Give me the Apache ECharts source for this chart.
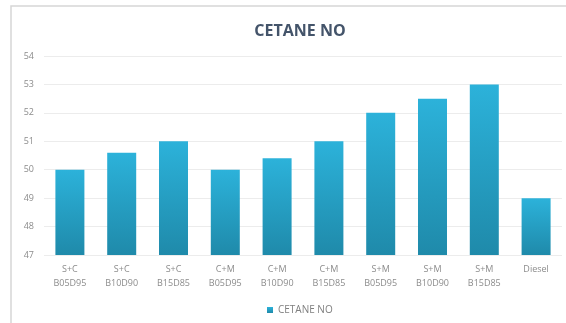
<!DOCTYPE html>
<html>
<head>
<meta charset="utf-8">
<script src="https://cdn.jsdelivr.net/npm/echarts@6/dist/echarts.min.js"></script>
<style>
  html, body { margin: 0; padding: 0; background: #ffffff; }
  #chart { width: 566px; height: 323px; }
</style>
</head>
<body>
<div id="chart"></div>
<script>
// Cetane number per blend
const categories = [
  'S+C\nB05D95', 'S+C\nB10D90', 'S+C\nB15D85',
  'C+M\nB05D95', 'C+M\nB10D90', 'C+M\nB15D85',
  'S+M\nB05D95', 'S+M\nB10D90', 'S+M\nB15D85',
  'Diesel'
];
const cetaneValues = [50, 50.6, 51, 50, 50.4, 51, 52, 52.5, 53, 49];
const yTicks = [47, 48, 49, 50, 51, 52, 53, 54];

const chart = echarts.init(document.getElementById('chart'), null, { renderer: 'canvas' });

const font = '"Open Sans", "Liberation Sans", sans-serif';

chart.setOption({
  backgroundColor: '#ffffff',
  animation: false,
  title: {
    text: 'CETANE NO',
    left: 295,
    textAlign: 'center',
    top: 18,
    textStyle: { fontFamily: font, fontSize: 16, fontWeight: 'bold', color: '#44546a' }
  },
  legend: {
    data: ['CETANE NO'],
    left: 262,
    top: 300,
    itemWidth: 6,
    itemHeight: 6,
    itemGap: 4,
    icon: 'rect',
    textStyle: { fontFamily: font, fontSize: 10, color: '#7f7f7f' }
  },
  graphic: [
    {
      type: 'polyline',
      shape: { points: [[11, 323], [11, 6], [566, 6]] },
      style: { stroke: '#d6d6d6', lineWidth: 1.5, fill: null }
    }
  ],
  grid: { left: 44, right: 4, top: 56, bottom: 68 },
  xAxis: {
    type: 'category',
    data: categories,
    axisLine: { show: false },
    axisTick: { show: false },
    axisLabel: {
      fontFamily: font, fontSize: 9, color: '#8c8c8c', lineHeight: 14, margin: 7
    }
  },
  yAxis: {
    type: 'value',
    min: yTicks[0],
    max: yTicks[yTicks.length - 1],
    interval: 1,
    axisLine: { show: false },
    axisTick: { show: false },
    axisLabel: { fontFamily: font, fontSize: 9, color: '#8c8c8c', margin: 10 },
    splitLine: { lineStyle: { color: '#ececec', width: 1 } }
  },
  series: [{
    name: 'CETANE NO',
    type: 'bar',
    data: cetaneValues,
    barWidth: 29,
    itemStyle: {
      color: new echarts.graphic.LinearGradient(0, 0, 0, 1, [
        { offset: 0, color: '#2cb2da' },
        { offset: 1, color: '#1f8aaa' }
      ])
    }
  }],
  color: ['#23a0c4']
});
</script>
</body>
</html>
